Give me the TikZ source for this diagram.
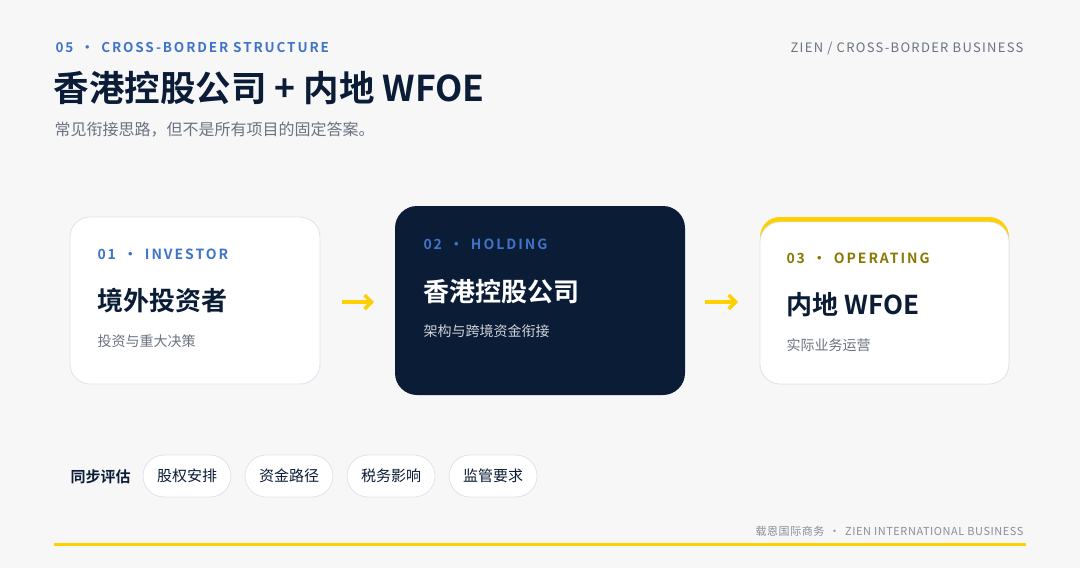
\documentclass[tikz,border=0pt]{standalone}
\usetikzlibrary{arrows.meta}
\usepackage{fontspec}
\setmainfont{Noto Sans CJK SC}[BoldFont={Noto Sans CJK SC Bold}]
\definecolor{bg}{HTML}{F7F7F8}
\definecolor{navy}{HTML}{0B1C36}
\definecolor{blue}{HTML}{3F74C9}
\definecolor{olive}{HTML}{8A7800}
\definecolor{gry}{HTML}{6B7280}
\definecolor{bord}{HTML}{DDE3EC}
\definecolor{yel}{HTML}{FFD000}
\begin{document}
\begin{tikzpicture}[x=1pt,y=-1pt,
  card/.style={rounded corners=20pt,fill=white,draw=bord,line width=0.8pt},
  lab/.style={anchor=west,font=\bfseries\fontsize{14}{16}\selectfont\addfontfeature{LetterSpace=14}},
  ttl/.style={anchor=west,font=\bfseries\fontsize{26}{30}\selectfont,text=navy},
  sub/.style={anchor=west,font=\fontsize{14}{16}\selectfont,text=gry},
  pill/.style={rounded corners=21pt,fill=white,draw=bord,line width=0.8pt,minimum width=88pt,minimum height=42pt,font=\fontsize{15}{17}\selectfont,text=navy},
  arr/.style={draw=yel,line width=3.5pt,-{Straight Barb[length=7pt,width=14pt]}}]
\useasboundingbox (0,0) rectangle (1080,568);
\fill[bg] (0,0) rectangle (1080,568);
\node[anchor=west,text=blue,font=\bfseries\fontsize{13.5}{15}\selectfont\addfontfeature{LetterSpace=14}] (hd) at (52,48) {05 \,•\, CROSS-BORDER STRUCTURE};
\node[anchor=east,text=gry,font=\fontsize{13}{15}\selectfont\addfontfeature{LetterSpace=10}] (hr) at (1027,48) {ZIEN / CROSS-BORDER BUSINESS};
\node[anchor=west,text=navy,font=\bfseries\fontsize{35.5}{40}\selectfont] (title) at (50,88) {香港控股公司 + 内地 WFOE};
\node[anchor=west,text=gry,font=\fontsize{16}{18}\selectfont] (subt) at (51,130) {常见衔接思路，但不是所有项目的固定答案。};
% card 1
\draw[card] (70,217) rectangle (320,384);
\node[lab,text=blue] at (94,254) {01 \,•\, INVESTOR};
\node[ttl] at (94,301) {境外投资者};
\node[sub] at (94,341) {投资与重大决策};
% card 2
\fill[navy,rounded corners=22pt] (395,206) rectangle (685,395);
\node[lab,text=blue] at (420,244) {02 \,•\, HOLDING};
\node[ttl,text=white] at (420,292) {香港控股公司};
\node[sub,text=white!80!navy] at (420,331) {架构与跨境资金衔接};
% card 3
\fill[yel,rounded corners=20pt] (760,217) rectangle (1009,384);
\draw[card] (760,222) rectangle (1009,384);
\node[lab,text=olive] at (783,258) {03 \,•\, OPERATING};
\node[ttl] at (783,305) {内地 WFOE};
\node[sub] at (783,345) {实际业务运营};
% arrows
\coordinate (a1s) at (342,302); \coordinate (a1e) at (374,302);
\coordinate (a2s) at (705,302); \coordinate (a2e) at (738,302);
\draw[arr] (a1s) -- (a1e);
\draw[arr] (a2s) -- (a2e);
% bottom
\node[anchor=west,text=navy,font=\bfseries\fontsize{15}{17}\selectfont] (sync) at (67,477) {同步评估};
\node[pill] (p1) at (187,476) {股权安排};
\node[pill] (p2) at (289,476) {资金路径};
\node[pill] (p3) at (391,476) {税务影响};
\node[pill] (p4) at (493,476) {监管要求};
\node[anchor=east,text=gry!80,font=\fontsize{11}{13}\selectfont\addfontfeature{LetterSpace=5}] (ft) at (1027,531) {载恩国际商务 \,•\, ZIEN INTERNATIONAL BUSINESS};
\fill[yel] (54,542.5) rectangle (1026,545.5);
\end{tikzpicture}
\end{document}
